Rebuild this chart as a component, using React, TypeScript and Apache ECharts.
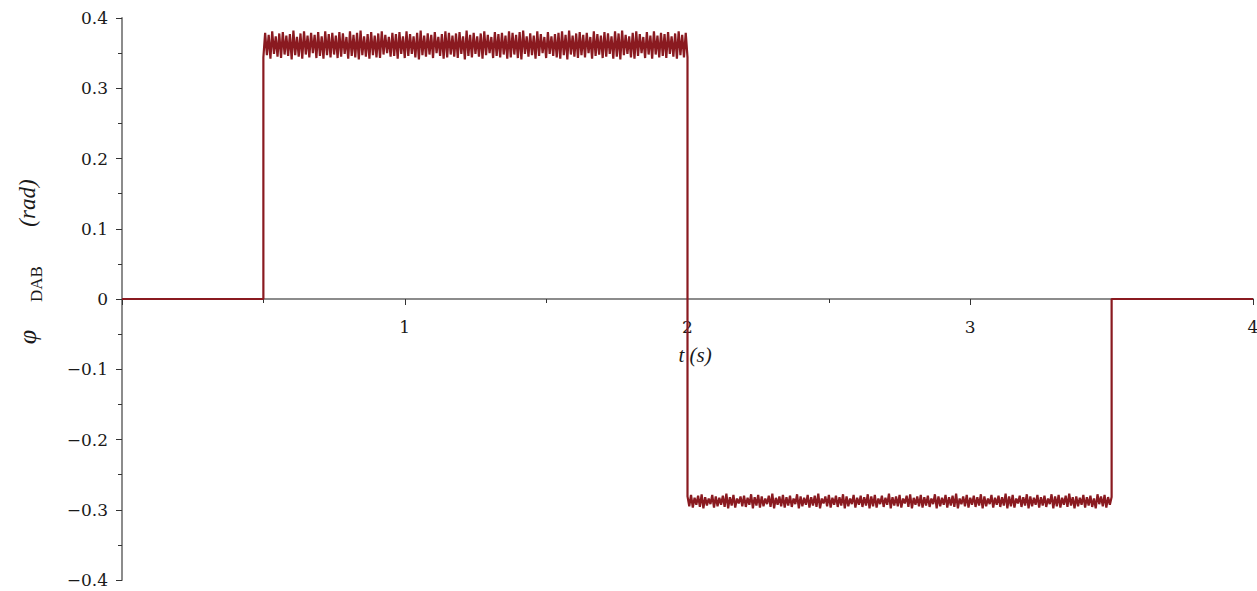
import React, { useEffect, useRef } from "react";
import * as echarts from "echarts";

// Step instants of the phase-shift command (s)
const stepTimes = [0, 0.5, 2, 3.5, 4];
// Number of ripple cycles inside each non-zero plateau
const rippleCycles = 120;

// Ripple extremes on the positive plateau (0.5 s – 2 s), rad
const posPeaks = [
  0.379, 0.376, 0.381, 0.374, 0.378, 0.38, 0.375, 0.377, 0.382, 0.373,
  0.378, 0.381, 0.375, 0.379, 0.376, 0.38, 0.374, 0.381, 0.377, 0.379,
  0.375, 0.38, 0.378, 0.373, 0.381, 0.376, 0.379, 0.382, 0.374, 0.377,
  0.38, 0.375, 0.378, 0.381, 0.376, 0.373, 0.379, 0.377, 0.38, 0.374,
  0.381, 0.377, 0.374, 0.379, 0.382, 0.375, 0.378, 0.376, 0.38, 0.373,
  0.377, 0.381, 0.379, 0.375, 0.378, 0.38, 0.374, 0.382, 0.376, 0.379,
  0.374, 0.378, 0.381, 0.376, 0.373, 0.38, 0.377, 0.379, 0.375, 0.381,
  0.379, 0.376, 0.38, 0.382, 0.374, 0.378, 0.375, 0.381, 0.377, 0.373,
  0.38, 0.374, 0.377, 0.379, 0.381, 0.376, 0.382, 0.375, 0.378, 0.38,
  0.376, 0.379, 0.373, 0.381, 0.377, 0.375, 0.38, 0.378, 0.374, 0.381,
  0.378, 0.382, 0.376, 0.374, 0.379, 0.381, 0.377, 0.373, 0.38, 0.375,
  0.381, 0.375, 0.379, 0.377, 0.38, 0.374, 0.378, 0.381, 0.376, 0.379,
];
const posTroughs = [
  0.344, 0.347, 0.342, 0.349, 0.345, 0.343, 0.348, 0.346, 0.341, 0.347,
  0.345, 0.342, 0.348, 0.344, 0.35, 0.343, 0.346, 0.342, 0.347, 0.344,
  0.348, 0.343, 0.345, 0.349, 0.342, 0.346, 0.344, 0.341, 0.347, 0.345,
  0.342, 0.347, 0.344, 0.343, 0.348, 0.35, 0.345, 0.346, 0.342, 0.349,
  0.343, 0.346, 0.349, 0.344, 0.341, 0.347, 0.345, 0.348, 0.343, 0.35,
  0.346, 0.342, 0.344, 0.348, 0.345, 0.343, 0.349, 0.341, 0.346, 0.344,
  0.349, 0.345, 0.342, 0.347, 0.35, 0.343, 0.346, 0.344, 0.348, 0.342,
  0.344, 0.348, 0.343, 0.341, 0.349, 0.345, 0.347, 0.342, 0.346, 0.35,
  0.343, 0.349, 0.346, 0.344, 0.342, 0.347, 0.341, 0.348, 0.345, 0.343,
  0.347, 0.344, 0.35, 0.342, 0.346, 0.348, 0.343, 0.345, 0.349, 0.342,
  0.345, 0.341, 0.347, 0.349, 0.344, 0.342, 0.346, 0.35, 0.343, 0.348,
  0.342, 0.348, 0.344, 0.346, 0.343, 0.349, 0.345, 0.342, 0.347, 0.344,
];

// Ripple extremes on the negative plateau (2 s – 3.5 s), rad
const negPeaks = [
  -0.281, -0.279, -0.283, -0.28, -0.278, -0.282, -0.284, -0.279, -0.281, -0.283,
  -0.28, -0.277, -0.282, -0.279, -0.284, -0.281, -0.28, -0.283, -0.278, -0.282,
  -0.279, -0.281, -0.284, -0.28, -0.277, -0.283, -0.281, -0.279, -0.282, -0.28,
  -0.284, -0.278, -0.281, -0.283, -0.279, -0.282, -0.28, -0.277, -0.284, -0.281,
  -0.279, -0.283, -0.28, -0.282, -0.278, -0.281, -0.284, -0.279, -0.283, -0.28,
  -0.282, -0.278, -0.281, -0.279, -0.284, -0.28, -0.283, -0.277, -0.282, -0.281,
  -0.279, -0.284, -0.28, -0.278, -0.283, -0.281, -0.279, -0.282, -0.28, -0.284,
  -0.278, -0.281, -0.283, -0.279, -0.282, -0.28, -0.277, -0.284, -0.281, -0.279,
  -0.283, -0.28, -0.282, -0.278, -0.281, -0.284, -0.279, -0.283, -0.28, -0.282,
  -0.277, -0.281, -0.279, -0.284, -0.28, -0.282, -0.278, -0.281, -0.283, -0.279,
  -0.282, -0.28, -0.284, -0.278, -0.281, -0.279, -0.283, -0.28, -0.277, -0.282,
  -0.281, -0.283, -0.279, -0.282, -0.28, -0.284, -0.278, -0.281, -0.279, -0.282,
];
const negTroughs = [
  -0.295, -0.297, -0.293, -0.296, -0.298, -0.294, -0.292, -0.297, -0.295, -0.293,
  -0.296, -0.298, -0.294, -0.297, -0.291, -0.295, -0.296, -0.293, -0.298, -0.294,
  -0.297, -0.295, -0.292, -0.296, -0.298, -0.293, -0.295, -0.297, -0.294, -0.296,
  -0.292, -0.298, -0.295, -0.293, -0.297, -0.294, -0.296, -0.298, -0.291, -0.295,
  -0.297, -0.293, -0.296, -0.294, -0.298, -0.295, -0.292, -0.297, -0.293, -0.296,
  -0.294, -0.298, -0.295, -0.297, -0.292, -0.296, -0.293, -0.298, -0.294, -0.295,
  -0.297, -0.291, -0.296, -0.298, -0.293, -0.295, -0.297, -0.294, -0.296, -0.292,
  -0.298, -0.295, -0.293, -0.297, -0.294, -0.296, -0.298, -0.292, -0.295, -0.297,
  -0.293, -0.296, -0.294, -0.298, -0.295, -0.292, -0.297, -0.293, -0.296, -0.294,
  -0.298, -0.295, -0.297, -0.291, -0.296, -0.294, -0.298, -0.295, -0.293, -0.297,
  -0.294, -0.296, -0.292, -0.298, -0.295, -0.297, -0.293, -0.296, -0.294, -0.298,
  -0.295, -0.293, -0.297, -0.294, -0.296, -0.298, -0.292, -0.295, -0.297, -0.293,
];

// Axis ticks
const xTicks = [0, 1, 2, 3, 4];
const yTicks = [-0.4, -0.3, -0.2, -0.1, 0, 0.1, 0.2, 0.3, 0.4];

const SERIF = "'DejaVu Serif', 'Liberation Serif', serif";
const TITLE_SERIF = "'Liberation Serif', 'Times New Roman', serif";
const LINE_COLOR = "#8a1a20";

// Alternate first/second extreme of each cycle across a plateau [a, b]
function plateau(a: number, b: number, first: number[], second: number[]) {
  const pts: [number, number][] = [];
  const half = (b - a) / (2 * rippleCycles);
  for (let i = 0; i < rippleCycles; i++) {
    pts.push([a + 2 * i * half, first[i]]);
    pts.push([a + (2 * i + 1) * half, second[i]]);
  }
  pts.push([b, first[rippleCycles - 1]]);
  return pts;
}

function buildPhaseData() {
  const [t0, tOn, tRev, tOff, tEnd] = stepTimes;
  const data: [number, number][] = [];
  data.push([t0, 0], [tOn, 0]);
  data.push(...plateau(tOn, tRev, posTroughs, posPeaks));
  data.push(...plateau(tRev, tOff, negPeaks, negTroughs));
  data.push([tOff, 0], [tEnd, 0]);
  return data;
}

function fmtY(v: number) {
  if (Math.abs(v) < 1e-9) return "0";
  const s = Math.abs(v).toFixed(1);
  return v < 0 ? "\u2212" + s : s;
}

export default function App() {
  const ref = useRef<HTMLDivElement>(null);

  useEffect(() => {
    if (!ref.current) return;
    const chart = echarts.init(ref.current, undefined, { renderer: "svg" });
    chart.setOption({
      animation: false,
      backgroundColor: "#ffffff",
      grid: { left: 122, right: 4, top: 18, bottom: 11, outerBoundsMode: "none" },
      xAxis: {
        type: "value",
        min: xTicks[0],
        max: xTicks[xTicks.length - 1],
        interval: 1,
        position: "bottom",
        axisLine: { onZero: false, lineStyle: { color: "#8c8c8c", width: 2 } },
        axisTick: { show: true, length: 6, lineStyle: { color: "#333", width: 1 } },
        minorTick: { show: true, splitNumber: 2, length: 4, lineStyle: { color: "#333", width: 1 } },
        splitLine: { show: false },
        axisLabel: {
          margin: 19,
          color: "#1a1a1a",
          fontFamily: SERIF,
          fontSize: 17,
          formatter: (v: number) => (v === 0 ? "" : String(v)),
        },
      },
      yAxis: {
        type: "value",
        min: yTicks[0],
        max: yTicks[yTicks.length - 1],
        interval: 0.1,
        axisLine: { show: true, onZero: false, lineStyle: { color: "#8c8c8c", width: 2 } },
        axisTick: { show: true, length: 6, lineStyle: { color: "#333", width: 1 } },
        minorTick: { show: true, splitNumber: 2, length: 4, lineStyle: { color: "#333", width: 1 } },
        splitLine: { show: false },
        axisLabel: {
          margin: 14,
          color: "#1a1a1a",
          fontFamily: SERIF,
          fontSize: 17,
          formatter: fmtY,
        },
      },
      graphic: [
        {
          type: "text",
          x: 27,
          y: 337,
          rotation: Math.PI / 2,
          style: {
            text: "\u03c6",
            font: `italic 26px ${TITLE_SERIF}`,
            fill: "#1a1a1a",
            align: "center",
            verticalAlign: "middle",
          },
        },
        {
          type: "text",
          x: 36,
          y: 284,
          rotation: Math.PI / 2,
          style: {
            text: "DAB",
            font: `17px ${TITLE_SERIF}`,
            fill: "#1a1a1a",
            align: "center",
            verticalAlign: "middle",
          },
        },
        {
          type: "text",
          x: 27,
          y: 203,
          rotation: Math.PI / 2,
          style: {
            text: "(rad)",
            font: `italic 23px ${TITLE_SERIF}`,
            fill: "#1a1a1a",
            align: "center",
            verticalAlign: "middle",
          },
        },
        {
          type: "text",
          x: 695,
          y: 355,
          style: {
            text: "t (s)",
            font: `italic 21px ${TITLE_SERIF}`,
            fill: "#1a1a1a",
            align: "center",
            verticalAlign: "middle",
          },
        },
      ],
      series: [
        {
          type: "line",
          data: buildPhaseData(),
          showSymbol: false,
          symbol: "none",
          lineStyle: { color: LINE_COLOR, width: 2.2 },
          z: 5,
        },
      ],
    });

    // Lift the time axis so it crosses the value axis at zero, labels included
    const yZero = chart.convertToPixel({ yAxisIndex: 0 }, 0) as number;
    const yBottom = chart.convertToPixel({ yAxisIndex: 0 }, yTicks[0]) as number;
    chart.setOption({ xAxis: { offset: -(yBottom - yZero) } });

    return () => chart.dispose();
  }, []);

  return (
    <div
      ref={ref}
      style={{ position: "fixed", left: 0, top: 0, width: 1257, height: 591, background: "#fff" }}
    />
  );
}
